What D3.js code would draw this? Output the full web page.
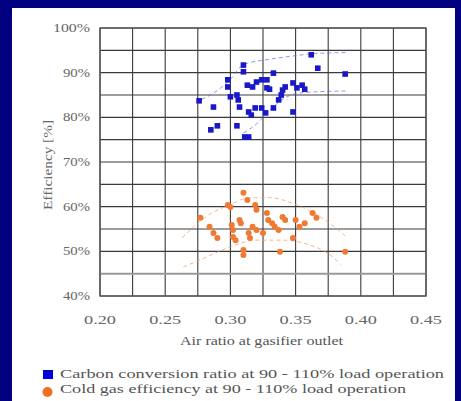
<!DOCTYPE html>
<html><head><meta charset="utf-8">
<script src="https://cdn.jsdelivr.net/npm/d3@7"></script>
<style>html,body{margin:0;padding:0;background:#000080;}svg{display:block;}
text{font-family:"Liberation Serif","Times New Roman",Times,serif;}</style>
</head><body>
<script>
// ---- data ----
const xTicks = [0.20, 0.25, 0.30, 0.35, 0.40, 0.45];
const yTicks = [0.40, 0.50, 0.60, 0.70, 0.80, 0.90, 1.00];
const xTitle = "Air ratio at gasifier outlet";
const yTitle = "Efficiency [%]";
const legendLabels = ["Carbon conversion ratio at 90 - 110% load operation",
                      "Cold gas efficiency at 90 - 110% load operation"];

const carbonX = [0.276,0.287,0.285,0.290,0.298,0.298,0.300,0.305,0.306,0.307,0.310,0.310,0.305,0.311,0.314,0.313,0.317,0.314,0.316,0.320,0.324,0.328,0.319,0.324,0.327,0.328,0.330,0.333,0.333,0.337,0.339,0.340,0.342,0.348,0.348,0.351,0.355,0.357,0.362,0.367,0.388];
const carbonY = [83.7,82.3,77.2,78.1,88.4,86.8,84.6,85.0,83.9,82.3,91.7,90.2,78.1,75.6,75.6,87.2,86.8,81.2,80.5,87.9,88.4,88.4,82.1,82.1,81.0,86.6,86.3,89.9,82.1,83.9,85.0,86.1,86.8,81.2,87.7,86.6,87.2,86.3,94.0,91.0,89.7];

const coldX = [0.277,0.284,0.287,0.290,0.298,0.300,0.301,0.302,0.302,0.304,0.307,0.308,0.310,0.313,0.310,0.310,0.314,0.315,0.319,0.320,0.317,0.320,0.325,0.328,0.329,0.332,0.334,0.337,0.340,0.342,0.338,0.348,0.350,0.353,0.357,0.363,0.366,0.388];
const coldY = [57.5,55.5,54.1,53.0,60.4,59.9,55.9,54.8,53.2,52.5,57.0,56.3,63.1,61.5,50.3,49.2,54.1,53.0,60.4,59.3,55.5,54.8,54.1,58.6,57.0,56.3,55.5,54.8,57.7,57.0,49.9,53.0,57.0,55.5,56.3,58.6,57.5,49.9];

// dashed envelope curves
const carbonUpX = [0.278,0.290,0.300,0.310,0.330,0.350,0.365,0.390];
const carbonUpY = [84.0,86.0,88.5,91.8,93.0,93.8,94.3,94.5];
const carbonLoX = [0.310,0.320,0.330,0.340,0.350,0.365,0.390];
const carbonLoY = [76.5,78.5,81.5,84.0,85.3,85.7,85.9];
const coldUpX = [0.263,0.280,0.300,0.315,0.330,0.350,0.370,0.390];
const coldUpY = [53.0,57.5,60.5,62.0,62.0,60.5,57.5,53.0];
const coldLoX = [0.264,0.280,0.300,0.320,0.340,0.360,0.375,0.385];
const coldLoY = [46.5,48.5,51.0,52.5,52.5,51.5,49.5,47.0];

// ---- layout ----
const W = 461, H = 401;
const svg = d3.select("body").append("svg").attr("width", W).attr("height", H);
svg.append("rect").attr("x",0).attr("y",0).attr("width",W).attr("height",H).attr("fill","#000080");
svg.append("rect").attr("x",12).attr("y",8).attr("width",443).attr("height",H-8).attr("fill","#ffffff");

const L = 100, R = 426, T = 28, B = 296;
const x = d3.scaleLinear().domain([0.20,0.45]).range([L,R]);
const y = d3.scaleLinear().domain([40,100]).range([B,T]);

const g = svg.append("g");
// grid
const xGrid = d3.range(0,11).map(i => 0.20 + i*0.025);
const yGrid = d3.range(0,13).map(i => 40 + i*5);
g.selectAll(".vg").data(xGrid).enter().append("line")
  .attr("x1",d=>x(d)).attr("x2",d=>x(d)).attr("y1",T).attr("y2",B)
  .attr("stroke","#3a3a3a").attr("stroke-width",1.1);
g.selectAll(".hg").data(yGrid).enter().append("line")
  .attr("x1",L).attr("x2",R).attr("y1",d=>y(d)).attr("y2",d=>y(d))
  .attr("stroke",d=> d===45 ? "#9a9a9a" : "#3a3a3a").attr("stroke-width",d=> d===45 ? 2 : 1.1);
g.append("rect").attr("x",L).attr("y",T).attr("width",R-L).attr("height",B-T)
  .attr("fill","none").attr("stroke","#555").attr("stroke-width",1.3);

// axes labels
svg.selectAll(".xt").data(xTicks).enter().append("text")
  .attr("x",d=>x(d)-16).attr("y",324)
  .attr("font-size",12).attr("fill","#666")
  .attr("textLength",32).attr("lengthAdjust","spacingAndGlyphs")
  .text(d=>d.toFixed(2));
svg.selectAll(".yt").data(yTicks).enter().append("text")
  .attr("x",d=> d>=1 ? 53 : 63).attr("y",d=>y(d*100)+4)
  .attr("font-size",12).attr("fill","#666")
  .attr("textLength",d=> d>=1 ? 37 : 27).attr("lengthAdjust","spacingAndGlyphs")
  .text(d=>d3.format(".0%")(d));
svg.append("text").attr("x",180).attr("y",345)
  .attr("font-size",12).attr("fill","#555")
  .attr("textLength",163).attr("lengthAdjust","spacingAndGlyphs").text(xTitle);
svg.append("text").attr("transform","translate(52,210) rotate(-90)")
  .attr("font-size",12).attr("fill","#666")
  .attr("textLength",90).attr("lengthAdjust","spacingAndGlyphs").text(yTitle);

// dashed curves
const line = d3.line().x(d=>x(d[0])).y(d=>y(d[1])).curve(d3.curveMonotoneX);
function dashed(xs, ys, color){
  g.append("path").attr("d", line(xs.map((v,i)=>[v, ys[i]])))
    .attr("fill","none").attr("stroke",color).attr("stroke-width",1).attr("stroke-dasharray","4,3").attr("opacity",0.7);
}
dashed(carbonUpX, carbonUpY, "#6666dd");
dashed(carbonLoX, carbonLoY, "#6666dd");
dashed(coldUpX, coldUpY, "#f09a60");
dashed(coldLoX, coldLoY, "#f09a60");

// points
const blue = "#1818c8", orange = "#f07a32";
g.selectAll(".cp").data(carbonX).enter().append("rect")
  .attr("x",(d,i)=>x(d)-2.8).attr("y",(d,i)=>y(carbonY[i])-2.8)
  .attr("width",5.6).attr("height",5.6).attr("fill",blue);
g.selectAll(".gp").data(coldX).enter().append("circle")
  .attr("cx",(d,i)=>x(d)).attr("cy",(d,i)=>y(coldY[i])).attr("r",3)
  .attr("fill",orange);

// legend
svg.append("rect").attr("x",43).attr("y",370).attr("width",10).attr("height",9).attr("fill","#0000dd");
svg.append("circle").attr("cx",47.5).attr("cy",392).attr("r",5).attr("fill","#f07020");
svg.selectAll(".lg").data(legendLabels).enter().append("text")
  .attr("x",60).attr("y",(d,i)=>378 + i*14.5)
  .attr("font-size",12.5).attr("fill","#555")
  .attr("textLength",(d,i)=> i===0 ? 384 : 346).attr("lengthAdjust","spacingAndGlyphs")
  .text(d=>d);
</script>
</body></html>
